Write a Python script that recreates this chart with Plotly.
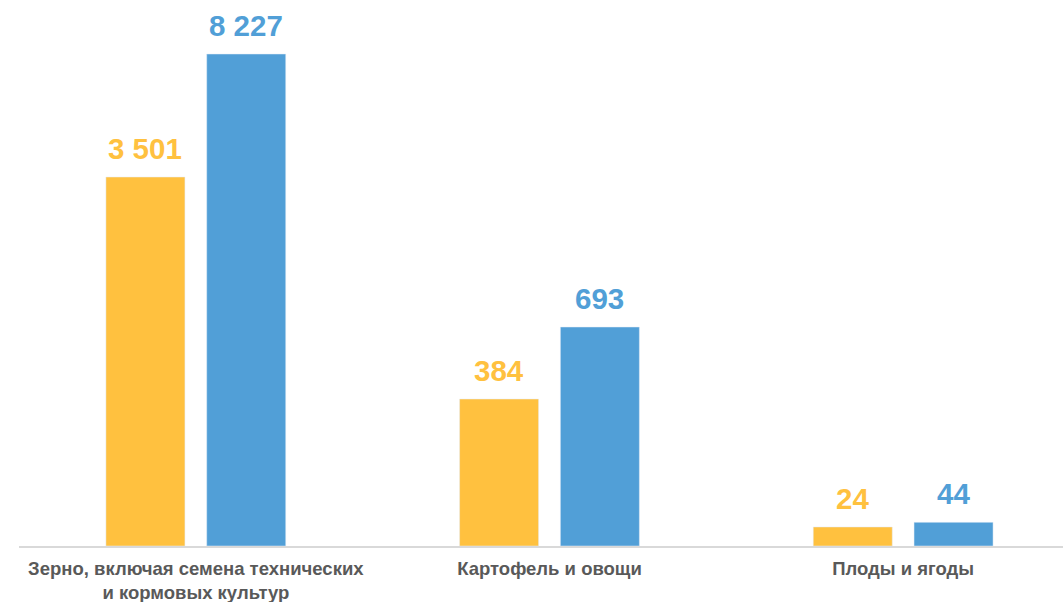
import plotly.graph_objects as go

categories = ["Зерно, включая семена технических<br>и кормовых культур",
              "Картофель и овощи",
              "Плоды и ягоды"]
# values printed above the bars
values_a = [3501, 384, 24]
values_b = [8227, 693, 44]
# bar lengths as drawn in the picture (scale: tallest bar = 8227)
drawn_a = [6170, 2458, 318]
drawn_b = [8227, 3662, 396]
labels_a = ["3 501", "384", "24"]
labels_b = ["8 227", "693", "44"]

YELLOW = "#FFC13F"
BLUE = "#519FD7"

x = list(range(len(categories)))
bargap = 0.43
slot = (1 - bargap) / 2

fig = go.Figure()
fig.add_bar(x=x, y=drawn_a, marker_color=YELLOW, name="A", hoverinfo="skip")
fig.add_bar(x=x, y=drawn_b, marker_color=BLUE, name="B", hoverinfo="skip")

for i in x:
    for off, h, lab, col in ((-slot / 2, drawn_a[i], labels_a[i], YELLOW),
                             (slot / 2, drawn_b[i], labels_b[i], BLUE)):
        fig.add_annotation(x=i + off, y=h, text=lab, showarrow=False,
                           xref="x", yref="y", yanchor="bottom", yshift=10,
                           font=dict(family="Liberation Sans, Arial", size=29.5,
                                     color=col, weight="bold"))

fig.update_layout(
    width=1063, height=602,
    margin=dict(l=19, r=0, t=0, b=56, autoexpand=False),
    paper_bgcolor="white", plot_bgcolor="white",
    barmode="group", bargap=bargap, bargroupgap=0.216,
    showlegend=False,
    xaxis=dict(range=[-0.5, 2.452], tickvals=x, ticktext=categories,
               showgrid=False, zeroline=False, showline=True,
               linecolor="#D9D9D9", linewidth=1.5, ticks="",
               automargin=False, ticklabelstandoff=5,
               tickfont=dict(family="Liberation Sans, Arial", size=18.5,
                             color="#595959", weight="bold")),
    yaxis=dict(range=[0, 9130], visible=False, showgrid=False, automargin=False),
)

fig.write_html("out.html",
               config={"displayModeBar": False},
               post_script="document.body.style.margin='0';"
                           "document.body.style.overflow='hidden';")
